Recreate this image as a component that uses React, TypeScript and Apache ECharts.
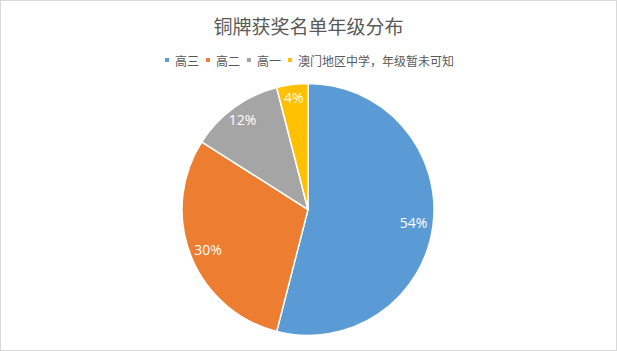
import React, { useEffect, useRef } from "react";
import * as echarts from "echarts";

const titleText = "铜牌获奖名单年级分布";
const categories = ["高三", "高二", "高一", "澳门地区中学，年级暂未可知"];
const values = [54, 30, 12, 4];
const colors = ["#5B9BD5", "#ED7D31", "#A5A5A5", "#FFC000"];
const labelRadiusFactor = [0.82, 0.83, 0.86, 0.87];

const FONT = "'Microsoft YaHei', 'Noto Sans CJK SC', sans-serif";

export default function App() {
  const ref = useRef<HTMLDivElement>(null);
  useEffect(() => {
    document.body.style.margin = "0";
    if (!ref.current) return;
    const chart = echarts.init(ref.current, null, { renderer: "svg" });
    const radius = 126;
    const total = values.reduce((a, b) => a + b, 0);
    chart.setOption({
      animation: false,
      color: colors,
      title: {
        text: titleText,
        left: "center",
        top: 10,
        textStyle: { fontFamily: FONT, fontSize: 19, fontWeight: "normal", color: "#595959" },
      },
      legend: {
        top: 48,
        left: "center",
        icon: "rect",
        itemWidth: 6,
        itemHeight: 6,
        itemGap: 5,
        textStyle: { fontFamily: FONT, fontSize: 12, color: "#595959", padding: [0, 0, 0, 0] },
        data: categories,
      },
      series: [
        {
          type: "pie",
          center: [307, 208.5],
          radius: [0, radius],
          startAngle: 90,
          clockwise: true,
          itemStyle: { borderColor: "#fff", borderWidth: 1.5 },
          label: {
            show: true,
            position: "inside",
            formatter: (p: any) => Math.round((p.value / total) * 100) + "%",
            color: "#fff",
            fontFamily: "'Open Sans', 'Noto Sans', sans-serif",
            fontSize: 14,
          },
          labelLine: { show: false },
          emphasis: { disabled: true },
          labelLayout: (p: any) => {
            const i = p.dataIndex;
            let cum = 0;
            for (let k = 0; k < i; k++) cum += values[k];
            const mid = ((cum + values[i] / 2) / total) * Math.PI * 2;
            const shift = (labelRadiusFactor[i] - 0.5) * radius;
            return { dx: Math.sin(mid) * shift, dy: -Math.cos(mid) * shift };
          },
          data: categories.map((name, i) => ({ name, value: values[i] })),
        },
      ],
    });
    return () => chart.dispose();
  }, []);
  return (
    <div
      style={{
        width: 617,
        height: 351,
        border: "1px solid #d9d9d9",
        boxSizing: "border-box",
        background: "#fff",
      }}
    >
      <div ref={ref} style={{ width: 615, height: 349 }} />
    </div>
  );
}
